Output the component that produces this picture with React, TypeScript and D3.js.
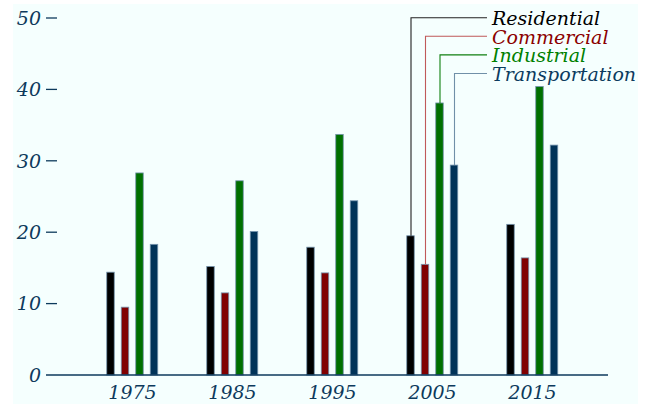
import React from "react";
import * as d3 from "d3";

const years = ["1975", "1985", "1995", "2005", "2015"];
const series = ["Residential", "Commercial", "Industrial", "Transportation"];
const residential = [14.4, 15.2, 17.9, 19.5, 21.1];
const commercial = [9.5, 11.5, 14.3, 15.5, 16.4];
const industrial = [28.3, 27.2, 33.7, 38.1, 40.4];
const transportation = [18.3, 20.1, 24.4, 29.4, 32.2];
const yTicks = [0, 10, 20, 30, 40, 50];
const legendYear = "2005";

const values = [residential, commercial, industrial, transportation];
const barColors = ["#000000", "#800000", "#007000", "#003358"];
const textColors = ["#000000", "#8b0000", "#008000", "#0d3b5e"];
const leaderColors = ["#222222", "#c05a5a", "#108010", "#7090a8"];
const axisColor = "#0d3a5c";
const font = "'DejaVu Serif', serif";

export default function App() {
  const W = 649, H = 404;
  const y = d3.scaleLinear().domain([0, 50]).range([375, 18]);
  const x = d3.scalePoint<string>().domain(years).range([132.5, 532.5]);
  const inner = d3.scalePoint<string>().domain(series).range([-22, 21.5]);
  const bw = 7.5;
  const li = years.indexOf(legendYear);

  return (
    <svg width={W} height={H} style={{ position: "absolute", left: 0, top: 0 }}>
      <rect x={13} y={4} width={625} height={H} fill="#f5fffe" />
      {/* y axis labels and ticks */}
      {yTicks.map((t) => (
        <g key={t}>
          <text x={41} y={y(t)} dy="0.36em" textAnchor="end" fontFamily={font}
            fontStyle="italic" fontSize={19} fill={axisColor}>{t}</text>
          {t > 0 && <line x1={46} x2={57} y1={y(t)} y2={y(t)} stroke={axisColor} strokeWidth={1.3} />}
        </g>
      ))}
      {/* bars */}
      {series.map((s, si) =>
        years.map((yr, yi) => {
          const cx = (x(yr) as number) + (inner(s) as number);
          const v = values[si][yi];
          return (
            <rect key={s + yr} x={cx - bw / 2} y={y(v)} width={bw} height={y(0) - y(v)}
              fill={barColors[si]} stroke="#7594ad" strokeWidth={0.8} />
          );
        })
      )}
      {/* x axis */}
      <line x1={46} x2={608} y1={375} y2={375} stroke={axisColor} strokeWidth={1.5} />
      {years.map((yr) => (
        <text key={yr} x={x(yr) as number} y={399} textAnchor="middle" fontFamily={font}
          fontStyle="italic" fontSize={19} fill={axisColor}>{yr}</text>
      ))}
      {/* legend with leader lines */}
      {series.map((s, si) => {
        const rowY = 17.7 + si * 18.6;
        const cx = (x(years[li]) as number) + (inner(s) as number) + 0.5;
        const top = y(values[si][li]);
        return (
          <g key={s}>
            <path d={`M${487},${rowY}H${cx}V${top}`} fill="none" stroke={leaderColors[si]} strokeWidth={1.1} />
            <text x={492} y={rowY + 7.5} fontFamily={font} fontStyle="italic" fontSize={19}
              fill={textColors[si]}>{s}</text>
          </g>
        );
      })}
    </svg>
  );
}
